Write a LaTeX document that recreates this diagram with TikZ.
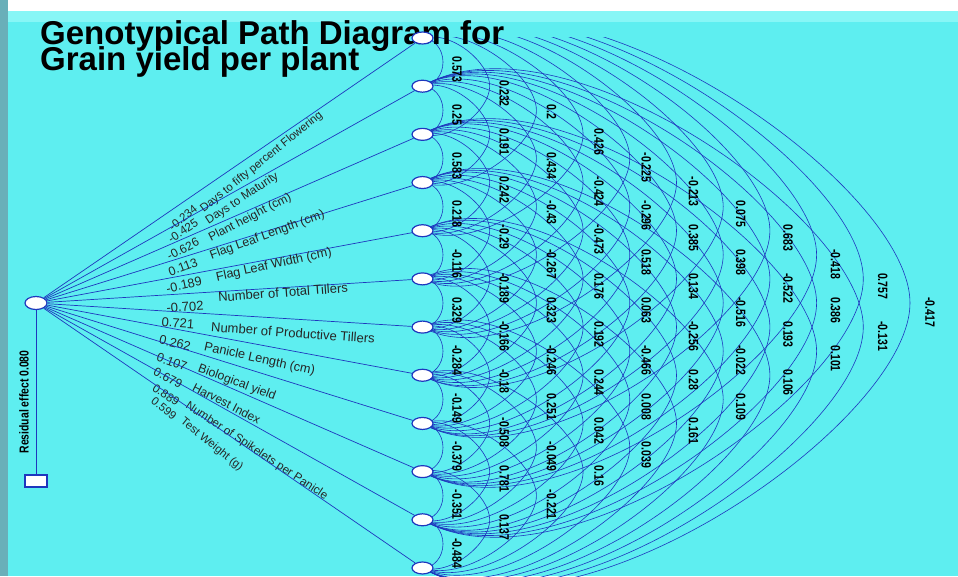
\documentclass[tikz,border=0pt]{standalone}
\usepackage{fontspec}
\usepackage{graphicx}
\setmainfont{Liberation Sans}
\usetikzlibrary{shapes.geometric}
\pgfdeclarelayer{back}
\pgfdeclarelayer{arcs}
\pgfsetlayers{back,arcs,main}
\definecolor{bg}{RGB}{94,238,240}
\definecolor{bgtop}{RGB}{135,246,246}
\definecolor{ln}{RGB}{30,55,190}
\definecolor{edgeL}{RGB}{105,175,185}
\begin{document}
\begin{tikzpicture}[x=1pt,y=-1pt,
  ov/.style={ellipse, draw=ln, fill=white, line width=1.2pt, minimum width=21pt, minimum height=12pt, inner sep=0pt},
  box/.style={rectangle, draw=ln, fill=white, line width=1.2pt, minimum width=22pt, minimum height=12pt, inner sep=0pt},
  ray/.style={draw=ln, line width=0.7pt},
  arcl/.style={draw=ln, line width=0.6pt},
  rlab/.style={inner sep=0pt, text=black!85},
  clab/.style={font=\bfseries\fontsize{13.5}{15}\selectfont, rotate=-90, anchor=west, inner sep=0pt}]
\useasboundingbox (0,0) rectangle (958,576);
\begin{pgfonlayer}{back}
\fill[white] (0,0) rectangle (958,576);
\fill[bg] (0,11) rectangle (958,576);
\fill[bgtop] (8,11) rectangle (958,22);
\fill[edgeL] (0,0) rectangle (8,576);
\end{pgfonlayer}
% title
\node[anchor=base west, font=\bfseries\fontsize{33}{36}\selectfont, inner sep=0pt] (t1) at (40,44) {Genotypical Path Diagram for};
\node[anchor=base west, font=\bfseries\fontsize{33}{36}\selectfont, inner sep=0pt] (t2) at (40,70) {Grain yield per plant};
% nodes
\node[ov, minimum width=22pt, minimum height=13pt] (L) at (36,303) {};
\node[box] (R) at (36,481) {};
\foreach \i in {1,...,12} {
  \pgfmathsetmacro\yy{38+48.18*(\i-1)}
  \node[ov] (n\i) at (422.5,\yy) {};
}
% correlation arcs
\begin{pgfonlayer}{arcs}
\begin{scope}
\clip (0,37) rectangle (958,576);
\foreach \i in {1,...,11} {
  \pgfmathtruncatemacro\ia{\i+1}
  \foreach \j in {\ia,...,12} {
    \pgfmathtruncatemacro\gp{\j-\i}
    \pgfmathsetmacro\yi{38+48.18*(\i-1)}
    \pgfmathsetmacro\yj{38+48.18*(\j-1)}
    \pgfmathsetmacro\ym{(\yi+\yj)/2}
    \pgfmathsetmacro\myC{(\yj-\yi)/2}
    \pgfmathsetmacro\myA{20.5+46.7*(\gp-1)}
    \pgfmathsetmacro\myT{(\gp==1)?0:min(30,15+3.75*(\gp-2))}
    \pgfmathsetmacro\myH{\myA*(0.34+0.21/\gp)}
    \pgfmathsetmacro\myG{\myC*(0.44+0.11/\gp)}
    \pgfmathsetmacro\cx{422.5+\myH*cos(\myT)}
    \pgfmathsetmacro\cy{\myH*sin(\myT)}
    \pgfmathsetmacro\ax{422.5+\myA}
    \draw[arcl] (n\i.center) .. controls (\cx,\yi-\cy) and (\ax,\ym-\myG) .. (\ax,\ym)
                .. controls (\ax,\ym+\myG) and (\cx,\yj+\cy) .. (n\j.center);
  }
}
\end{scope}
\end{pgfonlayer}
% arc labels
\foreach \gp/\lst in {
  1/{0.573,0.25,0.583,0.218,-0.116,0.329,-0.284,-0.149,-0.379,-0.351,-0.484},
  2/{0.232,0.191,0.242,-0.29,-0.189,-0.166,-0.18,-0.508,0.781,0.137},
  3/{0.2,0.434,-0.43,-0.267,0.323,-0.246,0.251,-0.049,-0.221},
  4/{0.426,-0.424,-0.473,0.176,0.192,0.244,0.042,0.16},
  5/{-0.225,-0.296,0.518,0.063,-0.466,0.008,0.039},
  6/{-0.213,0.385,0.134,-0.256,0.28,0.161},
  7/{0.075,0.398,-0.516,-0.022,0.109},
  8/{0.683,-0.522,0.193,0.106},
  9/{-0.418,0.386,0.101},
  10/{0.757,-0.131},
  11/{-0.417}} {
  \foreach \v [count=\n] in \lst {
    \pgfmathsetmacro\ym{38+48.18*(\n-1)+24.09*\gp}
    \pgfmathsetmacro\lx{457+47.3*(\gp-1)}
    \node[clab] (c\gp-\n) at (\lx,\ym-6) {\scalebox{0.78}[1]{\v}};
  }
}
% direct effect rays
\foreach \i/\num/\nx/\ny/\name/\mx/\my in {
  1/-0.234/183/218/Days to fifty percent Flowering/205/208,
  2/-0.425/183/231/Days to Maturity/210/220,
  3/-0.626/183/249/Plant height (cm)/213/237,
  4/0.113/183/267/Flag Leaf Length (cm)/214/255,
  5/-0.189/184/285/Flag Leaf Width (cm)/220/277,
  6/-0.702/185/307/Number of Total Tillers/222/297,
  7/0.721/178/323/Number of Productive Tillers/215/327,
  8/0.262/175/343/Panicle Length (cm)/208/348,
  9/0.107/172/362/Biological yield/202/370,
  10/0.679/168/378/Harvest Index/197/388,
  11/0.889/166/395/Number of Spikelets per Panicle/190/407,
  12/0.599/164/408/Test Weight (g)/185/423} {
  \pgfmathsetmacro\yi{38+48.18*(\i-1)}
  \pgfmathsetmacro\sl{(303-\yi)/386}
  \pgfmathsetmacro\th{atan(1.18*\sl)}
  \pgfmathsetmacro\fs{13.2-1.8*abs(\sl)/0.687}
  \pgfmathsetmacro\wx{\mx-4*cos(\th)}
  \pgfmathsetmacro\wy{\my+4*sin(\th)}
  \draw[ray] (L) -- (n\i);
  \node[rlab, rotate=\th, anchor=center, font=\fontsize{\fs}{14}\selectfont] (v\i) at (\nx,\ny) {\num};
  \node[rlab, rotate=\th, anchor=west, font=\fontsize{\fs}{14}\selectfont] (w\i) at (\wx,\wy) {\name};
}
% residual
\draw[ray] (L) -- (R);
\node[font=\bfseries\fontsize{13}{14}\selectfont, rotate=90, inner sep=0pt] (res) at (24,402) {\scalebox{0.8}[1]{Residual effect 0.080}};
\end{tikzpicture}
\end{document}
